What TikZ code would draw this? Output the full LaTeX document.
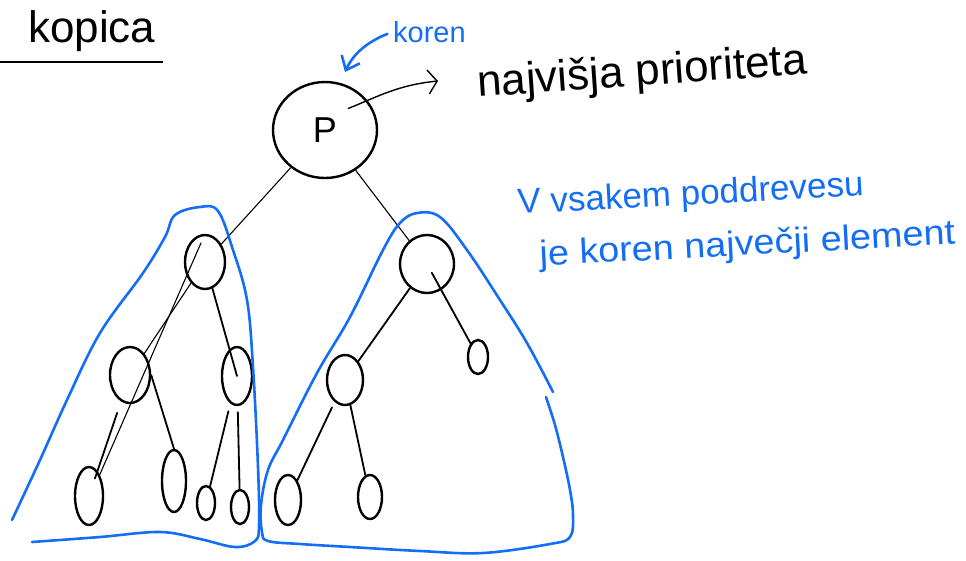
\documentclass[tikz,border=0pt]{standalone}
\usepackage{fontspec}
\setmainfont{Liberation Sans}
\usetikzlibrary{shapes.geometric,arrows.meta,calc}
\definecolor{ink}{RGB}{0,0,0}
\definecolor{penblue}{RGB}{20,110,245}
\begin{document}
\begin{tikzpicture}[x=1pt,y=-1pt,
  heapnode/.style={ellipse, draw=ink, line width=2.4pt, inner sep=0pt},
  edge/.style={draw=ink, line width=1.8pt, line cap=round},
  thinedge/.style={draw=ink, line width=1.1pt, line cap=round},
  outline/.style={draw=penblue, line width=2.6pt, line cap=round, line join=round},
  bluetext/.style={text=penblue, font=\fontsize{35}{42}\selectfont, anchor=base west, rotate=3, inner sep=0pt},
  plaintext/.style={anchor=base west, inner sep=0pt}]
\useasboundingbox (0,0) rectangle (966,560);

% heading
\node[plaintext, font=\fontsize{44}{44}\selectfont] (title) at (28,42) {kopica};
\draw[line width=2.4pt] (0,62) -- (163,62);

% the heap
\node[heapnode, minimum width=104pt, minimum height=96pt, font=\fontsize{36}{36}\selectfont] (root) at (325,130) {P};
\node[heapnode, minimum width=40pt, minimum height=54pt] (a) at (205,262) {};
\node[heapnode, minimum width=54pt, minimum height=58pt] (b) at (427,264) {};
\node[heapnode, minimum width=40pt, minimum height=56pt] (aa) at (130,375) {};
\node[heapnode, minimum width=30pt, minimum height=58pt] (ab) at (237,376) {};
\node[heapnode, minimum width=28pt, minimum height=58pt] (aaa) at (89,496) {};
\node[heapnode, minimum width=24pt, minimum height=62pt] (aab) at (174,481) {};
\node[heapnode, minimum width=18pt, minimum height=34pt] (aba) at (206,503) {};
\node[heapnode, minimum width=18pt, minimum height=34pt] (abb) at (240,507) {};
\node[heapnode, minimum width=36pt, minimum height=50pt] (ba) at (345,380) {};
\node[heapnode, minimum width=20pt, minimum height=34pt] (bb) at (478,357) {};
\node[heapnode, minimum width=26pt, minimum height=50pt] (baa) at (288,500) {};
\node[heapnode, minimum width=24pt, minimum height=44pt] (bab) at (370,497) {};

\draw[thinedge] (root) -- (a);
\draw[thinedge] (root) -- (b);
\draw[thinedge] (a) -- (aa);
\draw[thinedge, shorten <=10pt] (a.north) -- (aaa.north east);
\draw[edge] (a) -- (ab.center);
\draw[edge, shorten <=12pt, shorten >=-8pt] (aa) -- (aaa);
\draw[edge] (aa.east) -- (aab.north);
\draw[edge, shorten <=8pt] (ab) -- (aba);
\draw[edge, shorten <=6pt] (ab) -- (abb);
\draw[edge] (b) -- (ba);
\draw[edge, shorten <=10pt] (b.center) -- (bb);
\draw[edge, shorten <=6pt] (ba) -- (baa);
\draw[edge] (ba) -- (bab);

% notes around the root
\node[plaintext, text=penblue, font=\fontsize{29}{29}\selectfont] (koren) at (393,42) {koren};
\coordinate (korentip) at (345,72);
\draw[outline, -{Straight Barb[length=12pt,width=20pt]}, shorten <=6pt]
  (koren.west) .. controls +(-20,8) and +(10,-22) .. (korentip);

\node[plaintext, rotate=4, font=\fontsize{44}{44}\selectfont] (prio) at (478,97) {najvišja prioriteta};
\coordinate (priotip) at (438,81);
\draw[thinedge, line width=1.4pt, -{Straight Barb[length=9pt,width=24pt]}]
  ($(root.center)!0.62!(root.north east)$) .. controls +(30,-12) and +(-40,4) .. (priotip);

% subtree outlines
\draw[outline] plot[smooth, tension=0.6] coordinates {
  (12,520) (40,460) (67,400) (100,333) (143,273) (165,237) (175,215) (200,207)
  (218,211) (233,250) (247,300) (253,367) (258,467) (259,525) (255,541)
  (235,547) (200,539) (160,532) (100,537) (32,542)};
\draw[outline] plot[smooth, tension=0.6] coordinates {
  (553,392) (527,343) (500,300) (467,250) (440,217) (417,213) (400,223) (383,250)
  (350,317) (317,373) (283,440) (268,470) (261,505) (262,532) (268,541) (300,544)
  (350,547) (420,551) (483,553) (550,544) (570,537) (573,515) (570,490) (563,457)
  (555,425) (546,397)};

% property of the heap
\node[bluetext] (line1) at (518,214) {V vsakem poddrevesu};
\node[bluetext, xscale=1.08] (line2) at (540,266) {je koren največji element};
\end{tikzpicture}
\end{document}
